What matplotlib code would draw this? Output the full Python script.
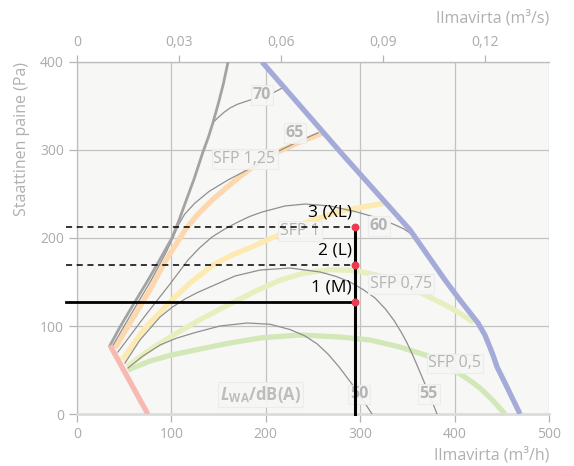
import matplotlib
matplotlib.use('Agg')
import matplotlib.pyplot as plt
from matplotlib.ticker import FuncFormatter

plt.rcParams['font.family'] = ['Open Sans', 'DejaVu Sans']
plt.rcParams['mathtext.fontset'] = 'custom'
plt.rcParams['mathtext.rm'] = 'Open Sans'
plt.rcParams['mathtext.it'] = 'Open Sans:italic'
plt.rcParams['mathtext.bf'] = 'Open Sans:bold'
plt.rcParams['mathtext.bfit'] = 'Open Sans:italic:bold'

# ---------------- data (m3/h , Pa) ----------------
min_flow_x = [35, 75]
min_flow_y = [78, 0]

max_speed_x = [35, 45.6, 60, 75.2, 88, 100.6, 108, 114.4, 124, 133.5, 139, 144, 150, 155, 160]
max_speed_y = [78, 99, 125, 152, 176, 200, 220, 239, 267, 298, 314, 331, 354, 375, 400]

max_flow_x = [196, 281.8, 352.8, 389.8, 405.7, 424.8, 432, 437, 441, 445, 453.4, 469.3]
max_flow_y = [400, 294.3, 209.1, 152.3, 129.5, 103.4, 90, 77, 66, 53.4, 35.2, 0]

sfp125_x = [40.3, 59.3, 77.3, 93.2, 114.4, 128, 143.0, 157, 170.6, 184, 196.0, 212.9, 236.2, 259.5]
sfp125_y = [75, 109, 141, 173, 209, 227, 243, 256, 268, 279, 288, 298, 309, 319]

sfp1_x = [47.7, 72, 98.5, 119.7, 144.1, 163, 183.3, 200, 215, 243.6, 278.6, 326.3]
sfp1_y = [61.4, 97.7, 127.3, 148.9, 169.3, 180, 189, 197, 204, 218, 230.5, 239.8]

sfp075_x = [53, 77, 104, 130, 160, 190, 215, 240, 268, 295, 321, 345, 360, 375, 390, 405, 420]
sfp075_y = [54, 73, 91, 107, 124, 140, 152, 160, 164, 163, 157, 147, 140, 132, 124, 115, 104]

sfp05_x = [54, 77.3, 100, 125, 162.1, 193.9, 236.2, 278.6, 310.4, 342.2, 371.8, 388, 402.5, 415, 426.9, 440, 453.4]
sfp05_y = [50, 60.2, 67, 72.7, 80.7, 86.4, 89.8, 87.5, 84.1, 76.1, 65.9, 57.5, 47.7, 39, 29.5, 16, 0]

db70_x = [144, 150, 156, 162.1, 170, 183.3, 195, 207.6, 219.3]
db70_y = [331, 337.5, 343, 347.7, 352, 356.8, 360.5, 364.8, 371.6]

db65_x = [37, 57, 77.5, 95, 102, 107, 114, 125, 140, 160, 188.6, 212.9, 236.2, 255.3]
db65_y = [76, 113, 150, 185, 201, 214, 227, 239.8, 253, 266, 282, 298.5, 310.5, 319.5]

db60_x = [43.4, 72, 98.5, 117.6, 130, 143, 157, 170.6, 183, 196, 220.3, 241.5, 268, 296.6, 316, 334.7, 346, 355]
db60_y = [70.5, 111.4, 147.7, 175, 189, 201.1, 210.5, 218.2, 224.5, 229.5, 236.4, 238.6, 236.4, 229.5, 223.5, 215.9, 210.5, 204]

db55_x = [50.8, 66.7, 87.9, 101, 114.4, 127.5, 140.9, 167.4, 193.9, 225.6, 257.4, 274, 289.2, 303, 315.7, 327, 336, 344, 350, 356, 361.2, 371.8, 381.4]
db55_y = [57.9, 84.1, 110.2, 121.5, 130.7, 138, 144.3, 156.8, 163.6, 165.9, 161.4, 156.5, 150, 141.5, 131.8, 119, 106, 92, 80, 66, 53, 26, 0]

db50_x = [54, 70, 87.9, 105, 125, 151.5, 180.1, 204.4, 225.6, 241, 254, 266, 278, 292, 304, 312.5]
db50_y = [52.3, 66, 78.4, 86, 92.5, 100, 103.4, 102, 96, 89, 80, 68, 53, 33, 14, 0]

op_flow = 294
op_pressures = [127, 169, 212]
op_labels = ['1 (M)', '2 (L)', '3 (XL)']
op_styles = ['-', '--', '--']

x_ticks = [0, 100, 200, 300, 400, 500]
y_ticks = [0, 100, 200, 300, 400]
top_ticks = [0, 0.03, 0.06, 0.09, 0.12]

# ---------------- figure ----------------
fig = plt.figure(figsize=(5.74, 4.66), dpi=100)
ax = fig.add_axes([77/574, 52/466, 472/574, 352/466])
ax.set_facecolor('#f7f7f6')
ax.set_xlim(0, 500)
ax.set_ylim(0, 400)

ax.set_xticks(x_ticks)
ax.set_yticks(y_ticks)
ax.grid(True, color='#c2c2c2', lw=0.9, zorder=0)
ax.set_axisbelow(True)

tick_col = '#ababab'
ax.tick_params(axis='both', colors='#b5b5b5', labelcolor=tick_col, labelsize=10,
               length=6, width=0.9, direction='out')
for s in ['left', 'top']:
    ax.spines[s].set_color('#bdbdbd')
    ax.spines[s].set_linewidth(0.9)
ax.spines['right'].set_visible(False)
ax.spines['bottom'].set_color('#dcdcdc')
ax.spines['bottom'].set_linewidth(2)

sec = ax.secondary_xaxis('top', functions=(lambda v: v / 3600.0, lambda v: v * 3600.0))
sec.set_xticks(top_ticks)
sec.xaxis.set_major_formatter(FuncFormatter(lambda v, p: '0' if abs(v) < 1e-9 else ('%.2f' % v).replace('.', ',')))
sec.tick_params(colors='#b5b5b5', labelcolor=tick_col, labelsize=10, length=5, width=0.9)
sec.spines['top'].set_color('#bdbdbd')

thin = dict(color='#8f8f8f', lw=0.9, zorder=3, solid_joinstyle='round')
for xs, ys in [(db70_x, db70_y), (db65_x, db65_y), (db60_x, db60_y), (db55_x, db55_y), (db50_x, db50_y)]:
    ax.plot(xs, ys, **thin)

thick = dict(lw=3.8, zorder=2, solid_capstyle='butt', solid_joinstyle='round')
ax.plot(sfp05_x, sfp05_y, color='#d3e8b8', **thick)
ax.plot(sfp075_x, sfp075_y, color='#e6efbd', **thick)
ax.plot(sfp1_x, sfp1_y, color='#fdeab0', **thick)
ax.plot(sfp125_x, sfp125_y, color='#fdd7ad', **thick)

ax.plot(max_speed_x, max_speed_y, color='#a3a3a3', lw=2.0, zorder=4, solid_joinstyle='round')
ax.plot(min_flow_x, min_flow_y, color='#f6bab3', lw=3.8, zorder=4, solid_capstyle='butt')
ax.plot(max_flow_x, max_flow_y, color='#a5abd9', lw=3.8, zorder=4, solid_capstyle='butt',
        solid_joinstyle='round')

# label boxes
lab_col = '#b4b4b4'
box = dict(boxstyle='square,pad=0.12', fc='#f6f6f5', ec='#ececec', lw=0.8, alpha=0.92)
def lab(x, y, s, bold=False, size=11.5):
    ax.text(x, y, s, color=lab_col, fontsize=size, fontweight='bold' if bold else 'normal',
            ha='center', va='center', bbox=box, zorder=6)

lab(196, 362.5, '70', bold=True)
lab(230.5, 319.3, '65', bold=True)
lab(320, 213.6, '60', bold=True)
lab(372.4, 22.7, '55', bold=True)
lab(298.7, 22.2, '50', bold=True)
lab(177.5, 289.8, 'SFP 1,25')
lab(236.2, 208, 'SFP 1')
lab(343.2, 147.7, 'SFP 0,75')
lab(400.4, 57.4, 'SFP 0,5')
ax.text(193.9, 22.7, r'$\mathbfit{L}_{\mathbf{WA}}\mathbf{/dB(A)}$', color='#bdbdbd', fontsize=12,
        ha='center', va='center', bbox=box, zorder=6)

# operating points
ax.plot([op_flow, op_flow], [0, max(op_pressures)], color='black', lw=2.2, zorder=7, clip_on=False)
for p, ls, t in zip(op_pressures, op_styles, op_labels):
    ax.plot([-12, op_flow], [p, p], color='black', lw=2.0 if ls == '-' else 1.1,
            ls=ls, dashes=(4, 3) if ls == '--' else (None, None), zorder=7, clip_on=False)
    ax.text(op_flow - 3, p + 17, t, color='black', fontsize=12.5, ha='right', va='center', zorder=8)
ax.scatter([op_flow] * len(op_pressures), op_pressures, s=22, color='#ec3b50', zorder=9, clip_on=False)

# axis titles
fig.text(549/574, 1 - 455/466, 'Ilmavirta (m³/h)', color='#b0b0b0', fontsize=11.5, ha='right', va='center')
fig.text(549/574, 1 - 18/466, 'Ilmavirta (m³/s)', color='#b0b0b0', fontsize=11.5, ha='right', va='center')
fig.text(22/574, 1 - 62/466, 'Staattinen paine (Pa)', color='#b0b0b0', fontsize=11.5,
         rotation=90, ha='center', va='top')

fig.savefig('out.png', dpi=100)
